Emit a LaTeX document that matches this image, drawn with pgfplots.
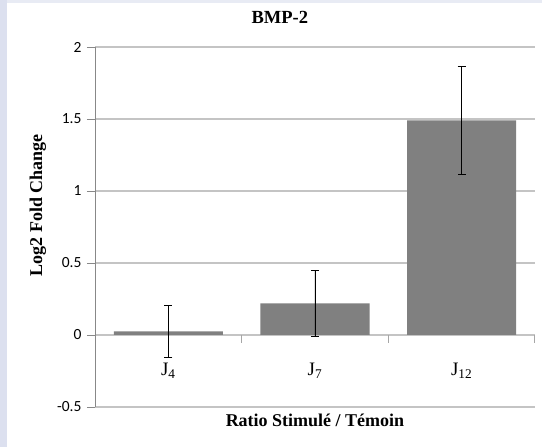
\documentclass[border=0pt]{standalone}
\usepackage{pgfplots}
\pgfplotsset{compat=1.18}
\usepackage{fontspec}
\setmainfont{Liberation Serif}
\newfontfamily\calib{Carlito}
\definecolor{barg}{HTML}{808080}
\definecolor{gridg}{HTML}{C4C4C4}
\definecolor{xtg}{HTML}{A6A6A6}
\definecolor{axg}{HTML}{888888}
\definecolor{frameblue}{HTML}{DCE0EF}
\definecolor{frametop}{HTML}{E8EBF4}
\begin{document}
\begin{tikzpicture}
\useasboundingbox (0,0) rectangle (542pt,447pt);
\fill[frametop] (0,0) rectangle (542pt,447pt);
\fill[frameblue] (0,0) rectangle (7pt,447pt);
\fill[white] (7pt,0) rectangle (542pt,444pt);
\begin{axis}[
  at={(95pt,40pt)}, anchor=south west,
  scale only axis, width=440pt, height=360pt,
  xmin=0.5, xmax=3.5, ymin=-0.5, ymax=2,
  axis x line*=middle, axis y line*=left,
  x axis line style={gridg, line width=1pt},
  y axis line style={axg, line width=0.9pt},
  ytick={-0.5,0,0.5,1,1.5,2},
  yticklabels={-0.5,0,0.5,1,1.5,2},
  ymajorgrids, major grid style={gridg, line width=1.1pt},
  ytick style={axg, line width=0.9pt},
  tick align=outside, major tick length=8pt,
  yticklabel style={font=\calib\fontsize{15.5}{15.5}\selectfont, xshift=-2pt},
  xtick={1.5,2.5,3.5},
  xticklabels={},
  x tick style={xtg, line width=1pt},
  extra x ticks={1,2,3},
  extra x tick labels={J\textsubscript{4},J\textsubscript{7},J\textsubscript{12}},
  extra x tick style={grid=none, major tick length=0pt},
  xticklabel style={font=\fontsize{19}{19}\selectfont, yshift=-25pt},
  every axis x label/.style={at={(axis description cs:0.5,0)}, anchor=north, yshift=-3pt},
  xlabel={\textbf{Ratio Stimulé / Témoin}},
  xlabel style={font=\fontsize{18}{18}\selectfont},
  every axis y label/.style={at={(axis description cs:-0.13,0.561)}, anchor=center, rotate=90},
  ylabel={\textbf{Log2 Fold Change}},
  ylabel style={font=\fontsize{18}{18}\selectfont},
  title={\textbf{BMP-2}},
  title style={at={(axis description cs:0.42,1.066)}, anchor=center, font=\fontsize{18.5}{18.5}\selectfont},
]
\addplot[ybar, bar width=109pt, fill=barg, draw=none,
  error bars/.cd, y dir=both, y explicit,
  error bar style={black, line width=0.9pt},
  error mark options={black, mark size=4pt, line width=0.9pt, rotate=90}]
  coordinates {
  (1,0.025) +- (0,0.18)
  (2,0.22) +- (0,0.228)
  (3,1.49) +- (0,0.375)
};
\end{axis}
\end{tikzpicture}
\end{document}
